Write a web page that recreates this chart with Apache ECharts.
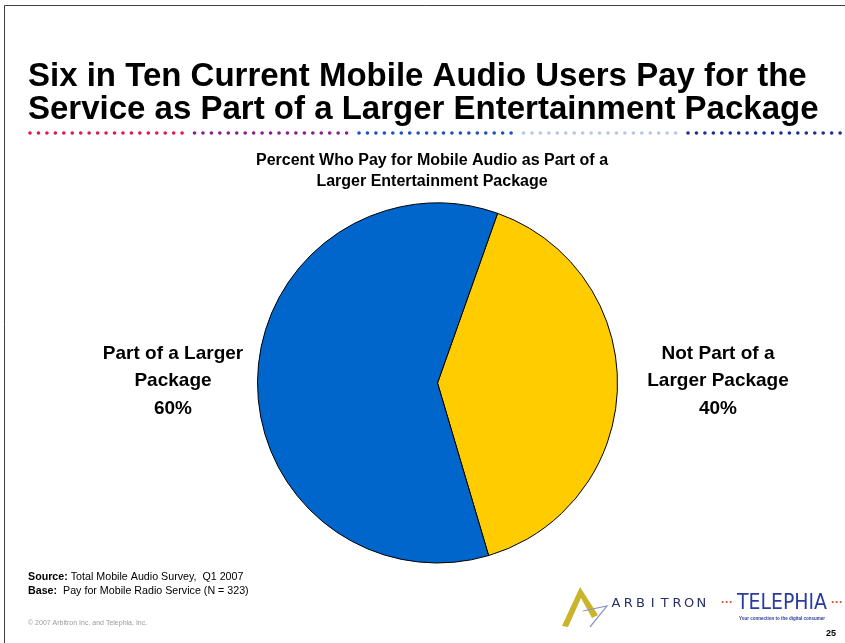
<!DOCTYPE html>
<html>
<head>
<meta charset="utf-8">
<script src="https://cdn.jsdelivr.net/npm/echarts@6/dist/echarts.min.js"></script>
<style>
  html, body { margin: 0; padding: 0; background: #ffffff; }
  #chart { width: 845px; height: 643px; }
</style>
</head>
<body>
<div id="chart"></div>
<script>
// Survey answers: share of paying mobile audio users
const categories = ['Not Part of a\nLarger Package', 'Part of a Larger\nPackage'];
const shares = [40, 60];
const sliceColors = ['#FFCC00', '#0066CC'];

const titleLines = 'Six in Ten Current Mobile Audio Users Pay for the\nService as Part of a Larger Entertainment Package';
const subtitleLines = 'Percent Who Pay for Mobile Audio as Part of a\nLarger Entertainment Package';

// Colours of the dotted rule under the headline
const ruleColors = ['#E2164C', '#8A1C8C', '#1C4FC0', '#B4C7E7', '#1B2E98'];

const chart = echarts.init(document.getElementById('chart'), null, { renderer: 'canvas' });

// Dotted rule: five runs of small dots
const ruleDots = [];
ruleColors.forEach((c, g) => {
  const x0 = 30 + g * 164.5;
  for (let i = 0; i < 19; i++) {
    ruleDots.push({
      type: 'circle',
      shape: { cx: x0 + i * 8.45, cy: 133, r: 1.8 },
      style: { fill: c }
    });
  }
});

// Wide-tracked wordmark, one glyph at a time
const arbitronGlyphs = 'ARBITRON'.split('').map((ch, i) => ({
  type: 'text',
  x: 616 + i * 12.2,
  y: 604,
  style: { text: ch, font: '13px "DejaVu Sans", sans-serif', fill: '#27306B',
           align: 'center', verticalAlign: 'middle' }
}));

// Labels sit to the left and right of the pie
const labelSpots = [
  { x: 718, y: 381 },
  { x: 173, y: 381 }
];

const sans = '"Liberation Sans", Arial, sans-serif';

chart.setOption({
  backgroundColor: '#ffffff',
  animation: false,
  graphic: [
    // page frame
    { type: 'rect', shape: { x: 4.5, y: 5.5, width: 900, height: 700 },
      style: { fill: 'none', stroke: '#404040', lineWidth: 1 } },
    { type: 'text', left: 28, top: 60,
      style: { text: titleLines, font: 'bold 33px ' + sans,
               fill: '#000000', lineHeight: 33 } },
    { type: 'group', children: ruleDots },
    { type: 'text', x: 432, y: 150,
      style: { text: subtitleLines, font: 'bold 16px ' + sans,
               fill: '#000000', align: 'center', verticalAlign: 'top', lineHeight: 21 } },
    // footnotes
    { type: 'text', left: 28, top: 570,
      style: {
        text: '{b|Source:} Total Mobile Audio Survey,  Q1 2007\n{b|Base:}  Pay for Mobile Radio Service (N = 323)',
        rich: {
          b: { font: 'bold 10.7px ' + sans, fill: '#000', lineHeight: 14 }
        },
        font: '10.7px ' + sans, fill: '#000', lineHeight: 14
      } },
    { type: 'text', left: 28, top: 620,
      style: { text: '\u00A9 2007 Arbitron Inc. and Telephia, Inc.',
               font: '7px ' + sans, fill: '#9a9a9a' } },
    { type: 'text', x: 836, y: 634,
      style: { text: '25', font: 'bold 9px ' + sans,
               fill: '#000', align: 'right', verticalAlign: 'middle' } },
    // Arbitron mark
    { type: 'polygon', shape: { points: [[580, 587], [562, 626], [568, 627], [581, 598], [592, 618], [598, 615]] },
      style: { fill: '#C9B42A' } },
    { type: 'polyline', shape: { points: [[583, 611], [607, 606], [590, 627]] },
      style: { stroke: '#8C95C8', lineWidth: 1.2, fill: 'none' } },
    { type: 'group', children: arbitronGlyphs },
    // Telephia mark
    { type: 'text', x: 721, y: 603,
      style: { text: '\u00B7\u00B7\u00B7', font: 'bold 12px ' + sans, fill: '#D94A3A',
               verticalAlign: 'middle' } },
    { type: 'text', x: 782, y: 604,
      style: { text: 'TELEPHIA', font: '21px "DejaVu Sans Condensed", "Liberation Sans Narrow", sans-serif',
               fill: '#2A3C9E', align: 'center', verticalAlign: 'middle' } },
    { type: 'text', x: 831, y: 603,
      style: { text: '\u00B7\u00B7\u00B7', font: 'bold 12px ' + sans, fill: '#D94A3A',
               verticalAlign: 'middle' } },
    { type: 'text', x: 782, y: 619,
      style: { text: 'Your connection to the digital consumer', font: 'bold 4.5px ' + sans,
               fill: '#2A3C9E', align: 'center', verticalAlign: 'middle' } }
  ],
  series: [{
    type: 'pie',
    center: [437.5, 383],
    radius: 180,
    startAngle: 70.5,
    clockwise: true,
    silent: true,
    itemStyle: { borderColor: '#000000', borderWidth: 1 },
    label: {
      show: true,
      position: 'outside',
      formatter: p => p.name + '\n' + p.value + '%',
      fontSize: 19,
      fontWeight: 'bold',
      fontFamily: sans,
      color: '#000000',
      lineHeight: 27.5,
      align: 'center'
    },
    labelLine: { show: false },
    labelLayout: p => ({
      x: labelSpots[p.dataIndex].x,
      y: labelSpots[p.dataIndex].y,
      align: 'center',
      verticalAlign: 'middle'
    }),
    data: categories.map((name, i) => ({
      name: name,
      value: shares[i],
      itemStyle: { color: sliceColors[i] }
    }))
  }]
});
</script>
</body>
</html>
